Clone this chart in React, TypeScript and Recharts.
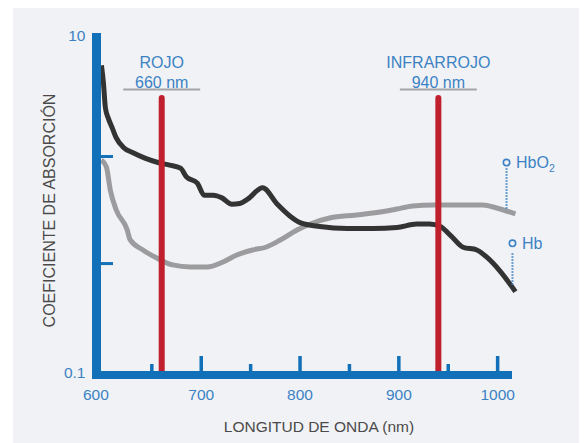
import React from "react";
import {
  LineChart,
  Line,
  XAxis,
  YAxis,
  ReferenceLine,
  ReferenceDot,
} from "recharts";

// absorption coefficient (log scale)
const hb = [
  { x: 599, y: 6.6 }, { x: 601, y: 5.2 }, { x: 603, y: 3.7 }, { x: 606, y: 3.2 },
  { x: 610, y: 2.8 }, { x: 614, y: 2.45 }, { x: 621, y: 2.16 }, { x: 631, y: 2.0 },
  { x: 643, y: 1.86 }, { x: 658, y: 1.74 }, { x: 668, y: 1.69 }, { x: 679, y: 1.62 },
  { x: 685, y: 1.44 }, { x: 696, y: 1.32 }, { x: 703, y: 1.12 }, { x: 712, y: 1.12 },
  { x: 721, y: 1.08 }, { x: 731, y: 0.99 }, { x: 739, y: 1.0 }, { x: 747, y: 1.06 },
  { x: 762, y: 1.24 }, { x: 777, y: 0.99 }, { x: 790, y: 0.84 }, { x: 800, y: 0.77 },
  { x: 820, y: 0.73 }, { x: 848, y: 0.71 }, { x: 874, y: 0.71 }, { x: 898, y: 0.72 },
  { x: 918, y: 0.755 }, { x: 931, y: 0.755 }, { x: 942, y: 0.73 }, { x: 952, y: 0.65 },
  { x: 965, y: 0.55 }, { x: 979, y: 0.53 }, { x: 989, y: 0.48 }, { x: 1002, y: 0.4 },
  { x: 1018, y: 0.3 },
];

const hbo2 = [
  { x: 599, y: 1.81 }, { x: 604, y: 1.65 }, { x: 608, y: 1.2 }, { x: 614, y: 0.915 },
  { x: 625, y: 0.7 }, { x: 628, y: 0.61 }, { x: 641, y: 0.53 }, { x: 655, y: 0.475 },
  { x: 671, y: 0.432 }, { x: 689, y: 0.42 }, { x: 706, y: 0.42 }, { x: 722, y: 0.45 },
  { x: 736, y: 0.495 }, { x: 752, y: 0.53 }, { x: 766, y: 0.552 }, { x: 780, y: 0.607 },
  { x: 797, y: 0.697 }, { x: 813, y: 0.766 }, { x: 830, y: 0.82 }, { x: 857, y: 0.855 },
  { x: 881, y: 0.89 }, { x: 898, y: 0.928 }, { x: 914, y: 0.966 }, { x: 935, y: 0.98 },
  { x: 955, y: 0.98 }, { x: 985, y: 0.98 }, { x: 999, y: 0.94 }, { x: 1018, y: 0.867 },
];

const xTicks = [600, 650, 700, 750, 800, 850, 900, 950, 1000];
const yTicks = [0.1, 0.44, 1.9, 10];
const yLabels = [0.1, 10];

const sources = [
  { nm: 660, name: "ROJO" },
  { nm: 940, name: "INFRARROJO" },
];

// where the series names hang off the curves
const hbo2Tag = { x: 1009, from: 0.93, to: 1.62, dot: 1.75 };
const hbTag = { x: 1015, from: 0.33, to: 0.515, dot: 0.58 };

const AXIS = "#1170b8";
const BLUE_TEXT = "#3b82c4";
const RED = "#c01f2e";
const FONT = "'Liberation Sans', Arial, Helvetica, sans-serif";

function XTick({ x, y, payload }: any) {
  const v = payload.value;
  const major = v % 100 === 0;
  return (
    <g>
      {v !== 600 && (
        <line x1={x} x2={x} y1={y} y2={y - (major ? 16 : 8)} stroke={AXIS} strokeWidth={3.5} />
      )}
      {major && (
        <text
          x={v === 600 ? x - 6.5 : x}
          y={y + 28}
          textAnchor="middle"
          fill={BLUE_TEXT}
          fontSize={15.5}
          fontFamily={FONT}
        >
          {v}
        </text>
      )}
    </g>
  );
}

function YTick({ x, y, payload }: any) {
  const v = payload.value;
  if (yLabels.includes(v)) {
    return (
      <text x={x - 11} y={y + 6} textAnchor="end" fill={BLUE_TEXT} fontSize={15.5} fontFamily={FONT}>
        {v}
      </text>
    );
  }
  return <line x1={x + 4.5} x2={x + 16.5} y1={y} y2={y} stroke={AXIS} strokeWidth={3} />;
}

function Frame(props: any) {
  const { x1, y1, y2 } = props;
  const top = Math.min(y1, y2);
  const bottom = Math.max(y1, y2);
  return (
    <g>
      <line x1={x1} x2={x1} y1={top - 2} y2={bottom + 3} stroke={AXIS} strokeWidth={9} />
      <line x1={x1 - 4.5} x2={x1 + 415.5} y1={bottom + 3} y2={bottom + 3} stroke={AXIS} strokeWidth={8} />
    </g>
  );
}

const sourceShape = (name: string, nm: number) => (props: any) => {
  const { x1, y1, y2 } = props;
  const top = Math.min(y1, y2);
  const bottom = Math.max(y1, y2);
  return (
    <g fontFamily={FONT}>
      <text x={x1} y={top + 33} textAnchor="middle" fill={BLUE_TEXT} fontSize={16}>
        {name}
      </text>
      <text x={x1} y={top + 53} textAnchor="middle" fill={BLUE_TEXT} fontSize={16}>
        {nm} nm
      </text>
      <line x1={x1 - 38.5} x2={x1 + 38.5} y1={top + 54.5} y2={top + 54.5} stroke="#a5a5a8" strokeWidth={2} />
      <line x1={x1} x2={x1} y1={top + 63} y2={bottom} stroke={RED} strokeWidth={6} strokeLinecap="round" />
    </g>
  );
};

const tagLabel = (text: string, sub?: string) => (props: any) => {
  const vb = props.viewBox;
  const cx = vb.x + vb.width / 2;
  const cy = vb.y + vb.height / 2;
  return (
    <text x={cx + 9.5} y={cy + 5.5} fill={BLUE_TEXT} fontSize={16} fontFamily={FONT}>
      {text}
      {sub && (
        <tspan fontSize={10.5} dy={4}>
          {sub}
        </tspan>
      )}
    </text>
  );
};

export default function App() {
  return (
    <div style={{ position: "relative", width: 579, height: 435, background: "#fff" }}>
      <div
        style={{ position: "absolute", left: 5, top: 0, width: 574, height: 435, background: "#f1f2f5" }}
      />
      <div style={{ position: "absolute", left: 0, top: 0 }}>
        <LineChart width={579} height={435} margin={{ top: 27, right: 69.6, left: 48.5, bottom: 31 }}>
          <XAxis
            type="number"
            dataKey="x"
            domain={[594, 1020]}
            ticks={xTicks}
            interval={0}
            tickSize={0}
            tickMargin={0}
            axisLine={false}
            tickLine={false}
            tick={<XTick />}
            height={40}
            label={(p: any) => {
              const vb = p.viewBox;
              return (
                <text
                  x={vb.x + vb.width / 2 + 12}
                  y={vb.y + 60}
                  textAnchor="middle"
                  fill="#4a4a4a"
                  fontSize={15.5}
                  fontFamily={FONT}
                >
                  LONGITUD DE ONDA (nm)
                </text>
              );
            }}
          />
          <YAxis
            type="number"
            dataKey="y"
            scale="log"
            domain={[0.1, 10]}
            allowDataOverflow
            ticks={yTicks}
            interval={0}
            tickSize={0}
            tickMargin={0}
            axisLine={false}
            tickLine={false}
            tick={<YTick />}
            width={40}
            label={(p: any) => {
              const vb = p.viewBox;
              const cx = 41;
              const cy = vb.y + vb.height / 2 + 7;
              return (
                <text
                  x={cx}
                  y={cy}
                  transform={`rotate(-90 ${cx} ${cy})`}
                  textAnchor="middle"
                  dominantBaseline="central"
                  fill="#4a4a4a"
                  fontSize={16}
                  fontFamily={FONT}
                >
                  COEFICIENTE DE ABSORCIÓN
                </text>
              );
            }}
          />
          <Line
            data={hbo2}
            dataKey="y"
            type="monotone"
            stroke="#9c9c9e"
            strokeWidth={5}
            dot={false}
            isAnimationActive={false}
          />
          <Line
            data={hb}
            dataKey="y"
            type="monotone"
            stroke="#333333"
            strokeWidth={5}
            dot={false}
            isAnimationActive={false}
          />
          {sources.map((s) => (
            <ReferenceLine key={s.nm} x={s.nm} ifOverflow="visible" shape={sourceShape(s.name, s.nm)} />
          ))}
          <ReferenceLine x={594} ifOverflow="visible" shape={Frame} />
          {[hbo2Tag, hbTag].map((t) => (
            <ReferenceLine
              key={t.x}
              segment={[
                { x: t.x, y: t.from },
                { x: t.x, y: t.to },
              ]}
              ifOverflow="visible"
              stroke={BLUE_TEXT}
              strokeWidth={2}
              strokeDasharray="1.5 1.5"
            />
          ))}
          <ReferenceDot
            x={hbo2Tag.x}
            y={hbo2Tag.dot}
            r={3.2}
            fill="#f1f2f5"
            stroke={BLUE_TEXT}
            strokeWidth={1.6}
            ifOverflow="visible"
            label={tagLabel("HbO", "2")}
          />
          <ReferenceDot
            x={hbTag.x}
            y={hbTag.dot}
            r={3.2}
            fill="#f1f2f5"
            stroke={BLUE_TEXT}
            strokeWidth={1.6}
            ifOverflow="visible"
            label={tagLabel("Hb")}
          />
        </LineChart>
      </div>
    </div>
  );
}
